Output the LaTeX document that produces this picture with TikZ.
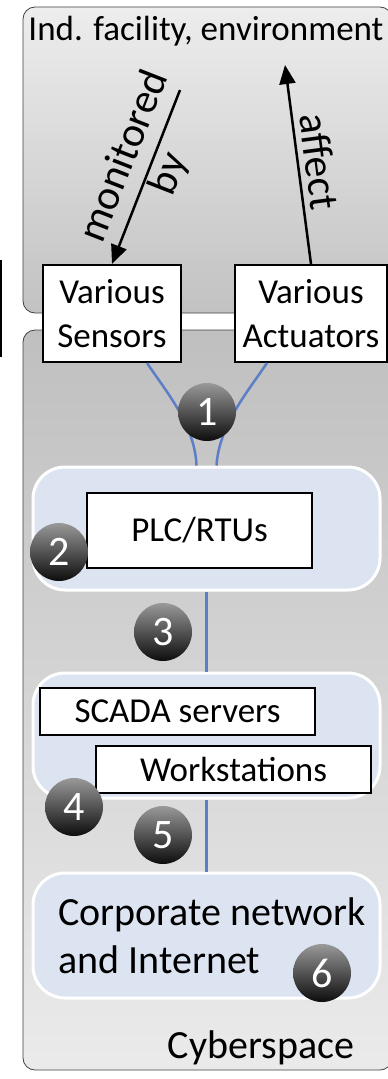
\documentclass[tikz,border=0pt]{standalone}
\usepackage{fontspec}
\setmainfont{Carlito}
\usepackage{tikz}
\usetikzlibrary{arrows.meta}
\usetikzlibrary{positioning,shapes.misc}

\definecolor{linkblue}{RGB}{92,126,198}
\definecolor{regionblue}{RGB}{221,228,241}

\tikzset{
  envbox/.style={draw=black!75, line width=0.8pt, rounded corners=12pt, inner sep=0pt},
  regionbox/.style={draw=white, line width=3pt, fill=regionblue, rounded corners=32pt, inner sep=0pt},
  itembox/.style={draw=black, line width=2pt, fill=white, inner sep=0pt, align=center, font=\fontsize{35}{44}\selectfont},
  numball/.style={circle, minimum size=58pt, inner sep=0pt, shading=axis, top color=black!40, bottom color=black!95, text=white, font=\fontsize{42}{42}\selectfont},
  link/.style={draw=linkblue, line width=2.5pt},
  flowarrow/.style={line width=2.5pt, -{Triangle[length=19pt,width=16pt]}},
  armlabel/.style={font=\fontsize{42}{48}\selectfont, align=center, inner sep=2pt}
}

\begin{document}
\begin{tikzpicture}[x=1pt,y=-1pt]
		\clip (0,0) rectangle (388,1079);
		%%outer areas
		\node[envbox, top color=black!7, bottom color=black!24, minimum width=369pt, minimum height=306pt] (env) at (207.5,160) {};
		\node[envbox, top color=black!25, bottom color=black!8, minimum width=369pt, minimum height=740pt] (cyber) at (207.5,700) {};
		\node[font=\fontsize{35}{40}\selectfont, inner sep=0pt] (envtitle) at (206,31) {Ind. facility, environment};
		\node[font=\fontsize{40}{44}\selectfont, inner sep=0pt] (cybertitle) at (261,1048) {Cyberspace};
		\draw[line width=2.5pt] (1,260) -- (1,357);
		%%field devices
		\node[itembox, minimum width=138pt, minimum height=97pt] (sens) at (112,313.5) {Various\\Sensors};
		\node[itembox, minimum width=152pt, minimum height=97pt] (act) at (311,313.5) {Various\\Actuators};
		%%regions
		\node[regionbox, minimum width=347pt, minimum height=123pt] (plcarea) at (206.5,528.5) {};
		\node[regionbox, minimum width=347pt, minimum height=125pt] (scadaarea) at (206.5,735.5) {};
		\node[regionbox, minimum width=347pt, minimum height=125pt] (corparea) at (206.5,935.5) {};
		%%links
		\draw[link] ([xshift=35pt]sens.south) .. controls (165,390) and (195,425) .. ([xshift=-10pt]plcarea.north);
		\draw[link] ([xshift=-44pt]act.south) .. controls (249,390) and (219,425) .. ([xshift=10pt]plcarea.north);
		\draw[link] (plcarea.south) -- (scadaarea.north);
		\draw[link] (scadaarea.south) -- (corparea.north);
		%%boxes in regions
		\node[itembox, minimum width=225pt, minimum height=75pt] (plc) at (199.5,530.5) {PLC/RTUs};
		\node[itembox, minimum width=275pt, minimum height=47pt] (scada) at (177.5,711.5) {SCADA servers};
		\node[itembox, minimum width=275pt, minimum height=47pt] (ws) at (233.5,769.5) {Workstations};
		\node[font=\fontsize{40}{48}\selectfont, align=left, anchor=west, inner sep=0pt] (corp) at (58,936) {Corporate network\\and Internet};
		%%numbers
		\node[numball] (n1) at (207,412) {1};
		\node[numball] (n2) at (59,552) {2};
		\node[numball] (n3) at (163,632) {3};
		\node[numball] (n4) at (74,807) {4};
		\node[numball] (n5) at (163,835) {5};
		\node[numball] (n6) at (322,973) {6};
		%%arrows
		\coordinate (montop) at (180,90);
		\coordinate (afftop) at (285,65);
		\draw[flowarrow] (montop) -- node[sloped, armlabel, pos=0.44, yshift=3pt] {monitored\\by} (sens.north);
		\draw[flowarrow] (act.north) -- node[sloped, above, armlabel, pos=0.5, yshift=4pt] {affect} (afftop);
\end{tikzpicture}
\end{document}
